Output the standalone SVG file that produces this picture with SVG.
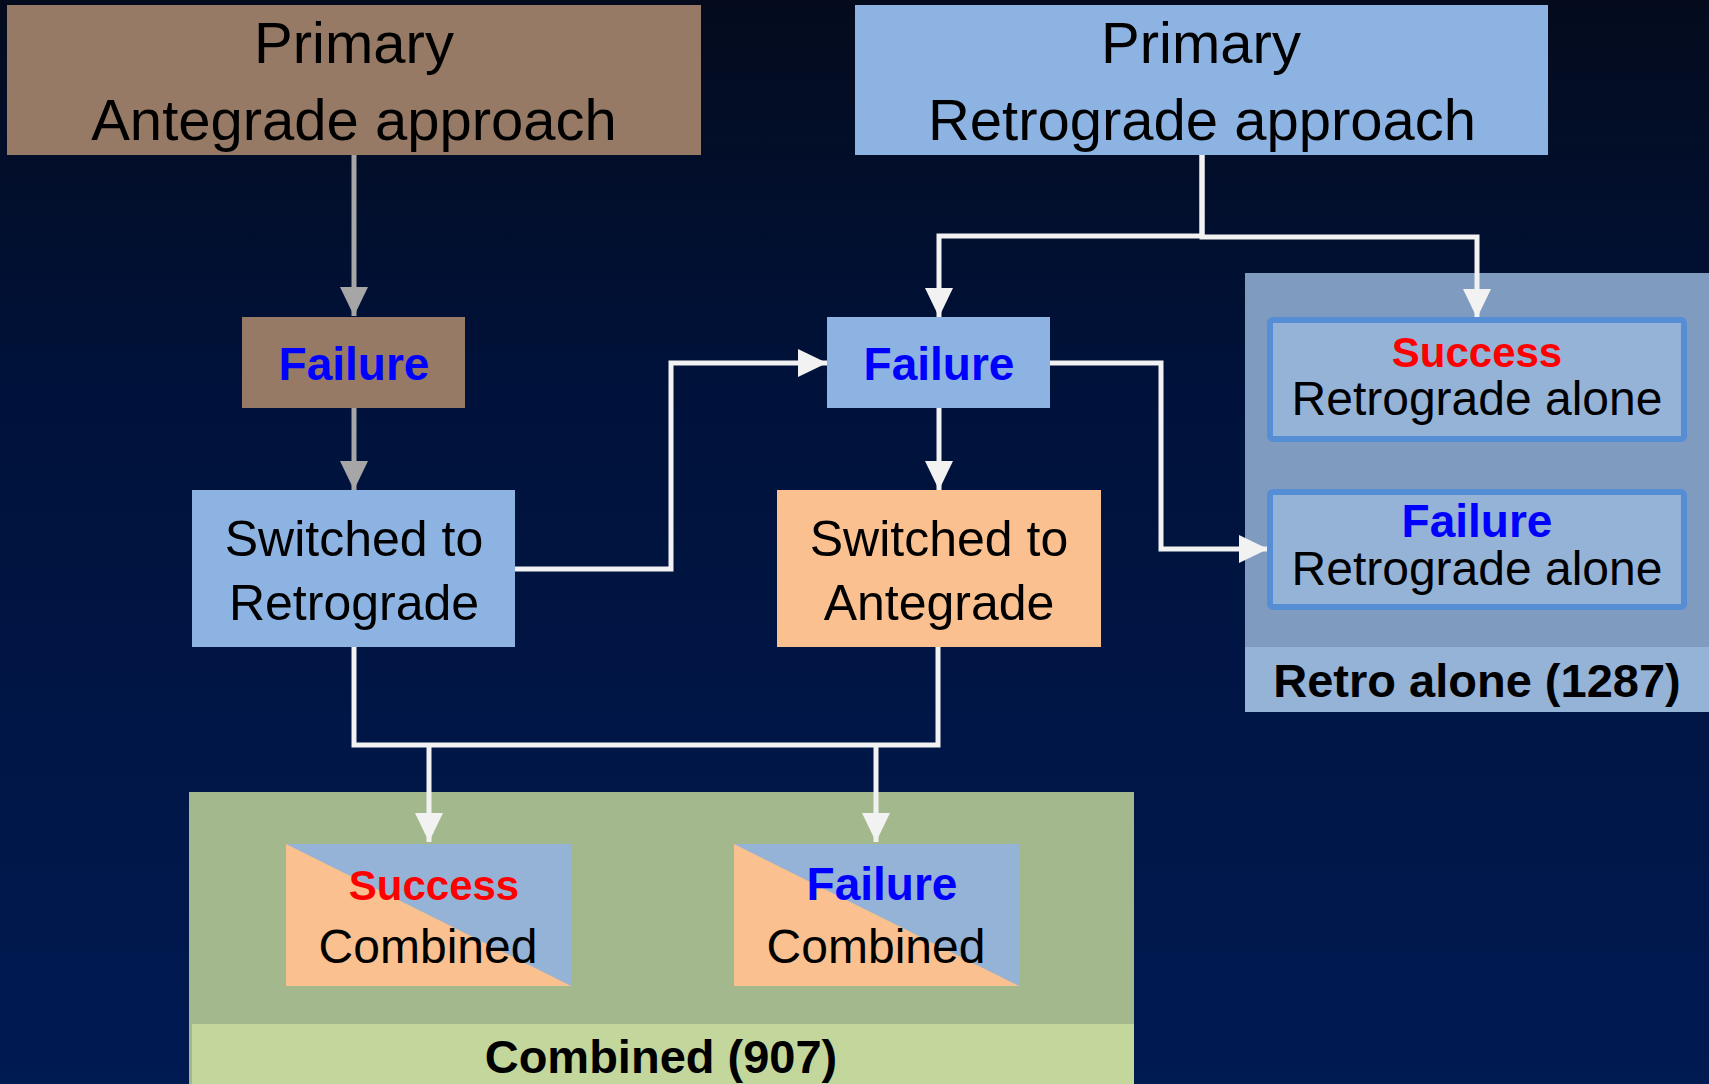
<svg xmlns="http://www.w3.org/2000/svg" width="1709" height="1084" viewBox="0 0 1709 1084">
  <defs>
    <linearGradient id="bg" x1="0" y1="0" x2="0" y2="1">
      <stop offset="0" stop-color="#040b1d"/>
      <stop offset="0.35" stop-color="#00123a"/>
      <stop offset="1" stop-color="#001a52"/>
    </linearGradient>
    <marker id="arrW" markerUnits="userSpaceOnUse" markerWidth="30" markerHeight="30" refX="29" refY="14" orient="auto">
      <path d="M0,0 L29,14 L0,28 z" fill="#f2f2f2"/>
    </marker>
    <marker id="arrG" markerUnits="userSpaceOnUse" markerWidth="30" markerHeight="30" refX="29" refY="14" orient="auto">
      <path d="M0,0 L29,14 L0,28 z" fill="#a6a6a6"/>
    </marker>
    <style>
      text { font-family: "Liberation Sans", Arial, sans-serif; text-anchor: middle; }
      .hdr { font-size: 58px; fill: #000; }
      .reg { font-size: 48px; fill: #000; }
      .sw { font-size: 50px; fill: #000; }
      .fail { font-size: 46px; font-weight: bold; fill: #0000ff; }
      .succ { font-size: 42px; font-weight: bold; fill: #ff0000; }
      .lbl { font-size: 47px; font-weight: bold; fill: #000; }
      .brown { fill: #967a66; }
      .lblue { fill: #8db3e2; }
      .peach { fill: #fac090; }
      .cw { fill: none; stroke: #f2f2f2; stroke-width: 5; marker-end: url(#arrW); }
      .cwn { fill: none; stroke: #f2f2f2; stroke-width: 5; }
      .cg { fill: none; stroke: #a6a6a6; stroke-width: 5; marker-end: url(#arrG); }
      .inner { fill: #95b3d7; stroke: #558ed5; stroke-width: 6; }
    </style>
  </defs>

  <rect x="0" y="0" width="1709" height="1084" fill="url(#bg)"/>

  <!-- group containers -->
  <g id="group-retro-alone">
    <rect x="1245" y="273" width="464" height="439" fill="#7f9cc0"/>
    <rect x="1245" y="647" width="464" height="65" fill="#95b3d7"/>
    <text class="lbl" x="1477" y="697">Retro alone (1287)</text>
  </g>
  <g id="group-combined">
    <rect x="189" y="792" width="945" height="292" fill="#a3b88d"/>
    <rect x="192" y="1024" width="942" height="60" fill="#c3d69b"/>
    <text class="lbl" x="661" y="1073">Combined (907)</text>
  </g>

  <!-- connectors -->
  <g id="connectors">
    <path class="cg" d="M354,155 V316"/>
    <path class="cg" d="M354,408 V490"/>
    <path class="cw" d="M1202,155 V236 H939 V317"/>
    <path class="cw" d="M1202,155 V237 H1477 V318"/>
    <path class="cw" d="M515,569 H671 V363 H827"/>
    <path class="cw" d="M939,408 V490"/>
    <path class="cw" d="M1050,363 H1161 V549 H1268"/>
    <path class="cwn" d="M354,647 V745 H938 V647"/>
    <path class="cw" d="M429,745 V842"/>
    <path class="cw" d="M876,745 V842"/>
  </g>

  <!-- nodes -->
  <g id="primary-antegrade">
    <rect class="brown" x="7" y="5" width="694" height="150"/>
    <text class="hdr" x="354" y="63">Primary</text>
    <text class="hdr" x="354" y="140">Antegrade approach</text>
  </g>
  <g id="primary-retrograde">
    <rect class="lblue" x="855" y="5" width="693" height="150"/>
    <text class="hdr" x="1201" y="63">Primary</text>
    <text class="hdr" x="1202" y="140">Retrograde approach</text>
  </g>
  <g id="failure-antegrade">
    <rect class="brown" x="242" y="317" width="223" height="91"/>
    <text class="fail" x="354" y="380">Failure</text>
  </g>
  <g id="failure-retrograde">
    <rect class="lblue" x="827" y="317" width="223" height="91"/>
    <text class="fail" x="939" y="380">Failure</text>
  </g>
  <g id="switched-to-retrograde">
    <rect class="lblue" x="192" y="490" width="323" height="157"/>
    <text class="sw" x="354" y="556">Switched to</text>
    <text class="sw" x="354" y="620">Retrograde</text>
  </g>
  <g id="switched-to-antegrade">
    <rect class="peach" x="777" y="490" width="324" height="157"/>
    <text class="sw" x="939" y="556">Switched to</text>
    <text class="sw" x="939" y="620">Antegrade</text>
  </g>
  <g id="success-retrograde-alone">
    <rect class="inner" x="1270" y="320" width="414" height="119" rx="3"/>
    <text class="succ" x="1477" y="367">Success</text>
    <text class="reg" x="1477" y="415">Retrograde alone</text>
  </g>
  <g id="failure-retrograde-alone">
    <rect class="inner" x="1270" y="492" width="414" height="115" rx="3"/>
    <text class="fail" x="1477" y="537">Failure</text>
    <text class="reg" x="1477" y="585">Retrograde alone</text>
  </g>
  <g id="success-combined">
    <polygon points="286,844 571,844 571,986" fill="#95b3d7"/>
    <polygon points="286,844 571,986 286,986" fill="#fac090"/>
    <text class="succ" x="434" y="900">Success</text>
    <text class="reg" x="428" y="963">Combined</text>
  </g>
  <g id="failure-combined">
    <polygon points="734,844 1019,844 1019,986" fill="#95b3d7"/>
    <polygon points="734,844 1019,986 734,986" fill="#fac090"/>
    <text class="fail" x="882" y="900">Failure</text>
    <text class="reg" x="876" y="963">Combined</text>
  </g>
</svg>
